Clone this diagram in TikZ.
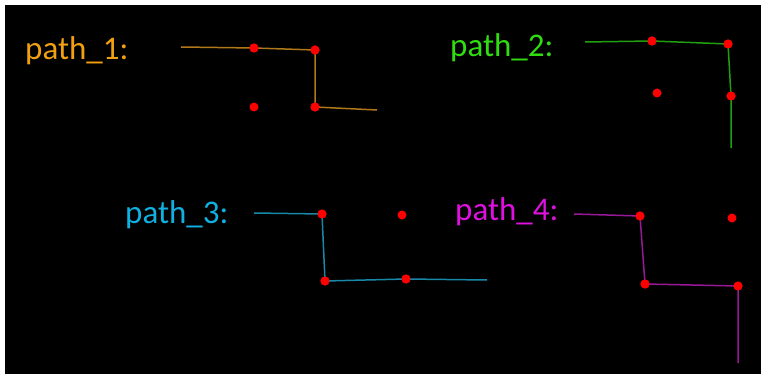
\documentclass[tikz,border=0pt]{standalone}
\usepackage{fontspec}
\setmainfont{Carlito}
\definecolor{orgtext}{HTML}{F0A010}
\definecolor{orgline}{HTML}{B07818}
\definecolor{grntext}{HTML}{30DD10}
\definecolor{grnline}{HTML}{20A010}
\definecolor{cyntext}{HTML}{10B0E0}
\definecolor{cynline}{HTML}{1888A8}
\definecolor{magtext}{HTML}{E010E0}
\definecolor{magline}{HTML}{981898}
\tikzset{
  lbl/.style={anchor=base west, inner sep=0pt, font=\fontsize{33}{40}\selectfont},
  trace/.style={line width=1.5pt},
  pt/.style={circle, fill=red, inner sep=0pt, minimum size=9pt},
}
\begin{document}
\begin{tikzpicture}[x=1pt,y=-1pt]
\useasboundingbox (0,0) rectangle (762,377);
\fill[white] (0,0) rectangle (762,377);
\fill[black] (5,5) rectangle (761,374);

% path_1
\node[lbl, text=orgtext] (l1) at (25,60) {path\_1:};
\coordinate (a0) at (181,47);
\node[pt] (a1) at (254,48) {};
\node[pt] (a2) at (315,50) {};
\node[pt] (a3) at (315,107) {};
\coordinate (a4) at (377,110);
\node[pt] (a5) at (254,107) {};
\draw[trace, orgline] (a0) -- (a1.center) -- (a2.center) -- (a3.center) -- (a4);
\node[pt] at (a1) {};
\node[pt] at (a2) {};
\node[pt] at (a3) {};

% path_2
\node[lbl, text=grntext] (l2) at (450,57) {path\_2:};
\coordinate (b0) at (585,42);
\node[pt] (b1) at (652,41) {};
\node[pt] (b2) at (728,44) {};
\node[pt] (b3) at (731,96) {};
\coordinate (b4) at (731,148);
\node[pt] (b5) at (657,93) {};
\draw[trace, grnline] (b0) -- (b1.center) -- (b2.center) -- (b3.center) -- (b4);
\node[pt] at (b1) {};
\node[pt] at (b2) {};
\node[pt] at (b3) {};

% path_3
\node[lbl, text=cyntext] (l3) at (125,223) {path\_3:};
\coordinate (c0) at (254,213);
\node[pt] (c1) at (322,214) {};
\node[pt] (c2) at (325,281) {};
\node[pt] (c3) at (406,279) {};
\coordinate (c4) at (487,280);
\node[pt] (c5) at (402,215) {};
\draw[trace, cynline] (c0) -- (c1.center) -- (c2.center) -- (c3.center) -- (c4);
\node[pt] at (c1) {};
\node[pt] at (c2) {};
\node[pt] at (c3) {};

% path_4
\node[lbl, text=magtext] (l4) at (455,220) {path\_4:};
\coordinate (d0) at (574,214);
\node[pt] (d1) at (640,216) {};
\node[pt] (d2) at (645,284) {};
\node[pt] (d3) at (738,286) {};
\coordinate (d4) at (738,363);
\node[pt] (d5) at (732,218) {};
\draw[trace, magline] (d0) -- (d1.center) -- (d2.center) -- (d3.center) -- (d4);
\node[pt] at (d1) {};
\node[pt] at (d2) {};
\node[pt] at (d3) {};
\end{tikzpicture}
\end{document}
